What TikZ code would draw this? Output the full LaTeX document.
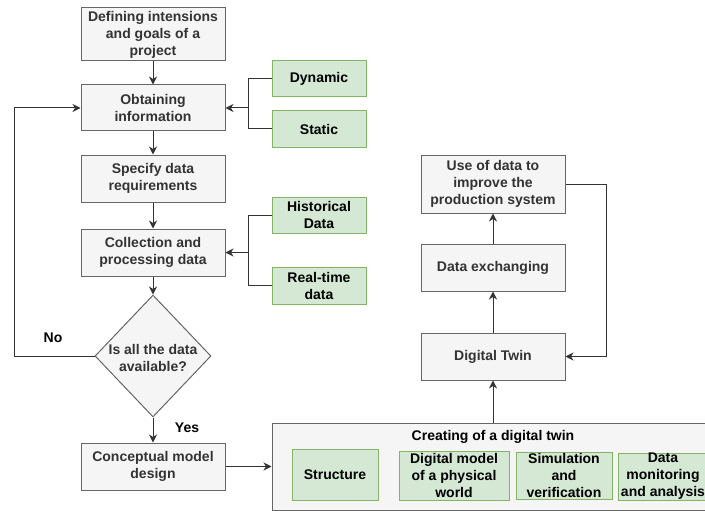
\documentclass[tikz,border=0pt]{standalone}
\usepackage{fontspec}
\setmainfont{Liberation Sans}
\usetikzlibrary{arrows.meta,shapes.geometric}
\definecolor{gfill}{HTML}{F5F5F5}
\definecolor{gline}{HTML}{666666}
\definecolor{gtext}{HTML}{333333}
\definecolor{nfill}{HTML}{D5E8D4}
\definecolor{nline}{HTML}{82B366}
\definecolor{eline}{HTML}{333333}
\tikzset{
  txt/.style={font=\fontsize{14}{17}\selectfont\bfseries, align=center, inner sep=0pt},
  graybox/.style={txt, draw=gline, fill=gfill, text=gtext, line width=1pt},
  greenbox/.style={txt, draw=nline, fill=nfill, text=black, line width=1pt},
  conn/.style={draw=eline, line width=1pt},
  arr/.style={conn, -{Stealth[length=8pt,width=8pt,inset=2.5pt]}},
}
\begin{document}
\begin{tikzpicture}[x=1pt,y=-1pt]
\clip (0,0) rectangle (705,511);
\fill[white] (0,0) rectangle (705,511);
% left column
\node[graybox, minimum width=144pt, minimum height=53pt] (def) at (153,34.5) {Defining intensions\\and goals of a\\project};
\node[graybox, minimum width=144pt, minimum height=46pt] (obt) at (153,108) {Obtaining\\information};
\node[graybox, minimum width=144pt, minimum height=47pt] (spec) at (153,178.5) {Specify data\\requirements};
\node[graybox, minimum width=144pt, minimum height=47pt] (coll) at (153,252.5) {Collection and\\processing data};
\node[draw=gline, fill=gfill, line width=1pt, diamond, minimum width=116pt, minimum height=122pt, inner sep=0pt] (dia) at (153,356) {};
\node[txt, text=gtext] (diat) at (153,358) {Is all the data\\available?};
\node[graybox, minimum width=144pt, minimum height=47pt] (con) at (153,466.5) {Conceptual model\\design};
% green side boxes
\node[greenbox, minimum width=94pt, minimum height=36pt] (dyn) at (319,79) {Dynamic};
\node[greenbox, minimum width=94pt, minimum height=36pt] (sta) at (319,129) {Static};
\node[greenbox, minimum width=94pt, minimum height=36pt] (his) at (319,215) {Historical\\Data};
\node[greenbox, minimum width=94pt, minimum height=37pt] (rt) at (319,285.5) {Real-time\\data};
% right column
\node[graybox, minimum width=144pt, minimum height=58pt] (use) at (493,184) {Use of data to\\improve the\\production system};
\node[graybox, minimum width=144pt, minimum height=47pt] (dex) at (493,267.5) {Data exchanging};
\node[graybox, minimum width=144pt, minimum height=47pt] (dt) at (493,356.5) {Digital Twin};
% container
\node[draw=gline, fill=gfill, line width=1pt, minimum width=468pt, minimum height=87pt, inner sep=0pt] (cont) at (506,466.5) {};
\node[txt, text=black] (ctitle) at (493,437) {Creating of a digital twin};
\node[greenbox, minimum width=86pt, minimum height=51pt] (str) at (335,474.5) {Structure};
\node[greenbox, minimum width=110pt, minimum height=49pt] (dmod) at (454,475.5) {Digital model\\of a physical\\world};
\node[greenbox, minimum width=96pt, minimum height=47pt] (sim) at (564,475.5) {Simulation\\and\\verification};
\node[greenbox, minimum width=90pt, minimum height=47pt] (mon) at (663,476.5) {Data\\monitoring\\and analysis};
% connectors left column
\draw[arr] (def) -- (obt);
\draw[arr] (obt) -- (spec);
\draw[arr] (spec) -- (coll);
\draw[arr] (coll) -- (dia.north);
\draw[arr] (dia.south) -- (con);
\coordinate (lp) at (14,356);
\draw[arr] (dia.west) -- (lp) |- (obt.west);
\node[txt, text=black] (no) at (53,338) {No};
\node[txt, text=black] (yes) at (187,428) {Yes};
% brackets
\coordinate (b1) at (248,108);
\draw[conn] (dyn.west) -| (b1);
\draw[conn] (sta.west) -| (b1);
\draw[arr] (b1) -- (obt.east);
\coordinate (b2) at (248,252.5);
\draw[conn] (his.west) -| (b2);
\draw[conn] (rt.west) -| (b2);
\draw[arr] (b2) -- (coll.east);
% to container and right column
\draw[arr] (con.east) -- (cont.west);
\draw[arr] (dt.south |- cont.north) -- (dt.south);
\draw[arr] (dt) -- (dex);
\draw[arr] (dex) -- (use);
\coordinate (fb) at (606,184);
\draw[arr] (use.east) -- (fb) |- (dt.east);
\end{tikzpicture}
\end{document}
